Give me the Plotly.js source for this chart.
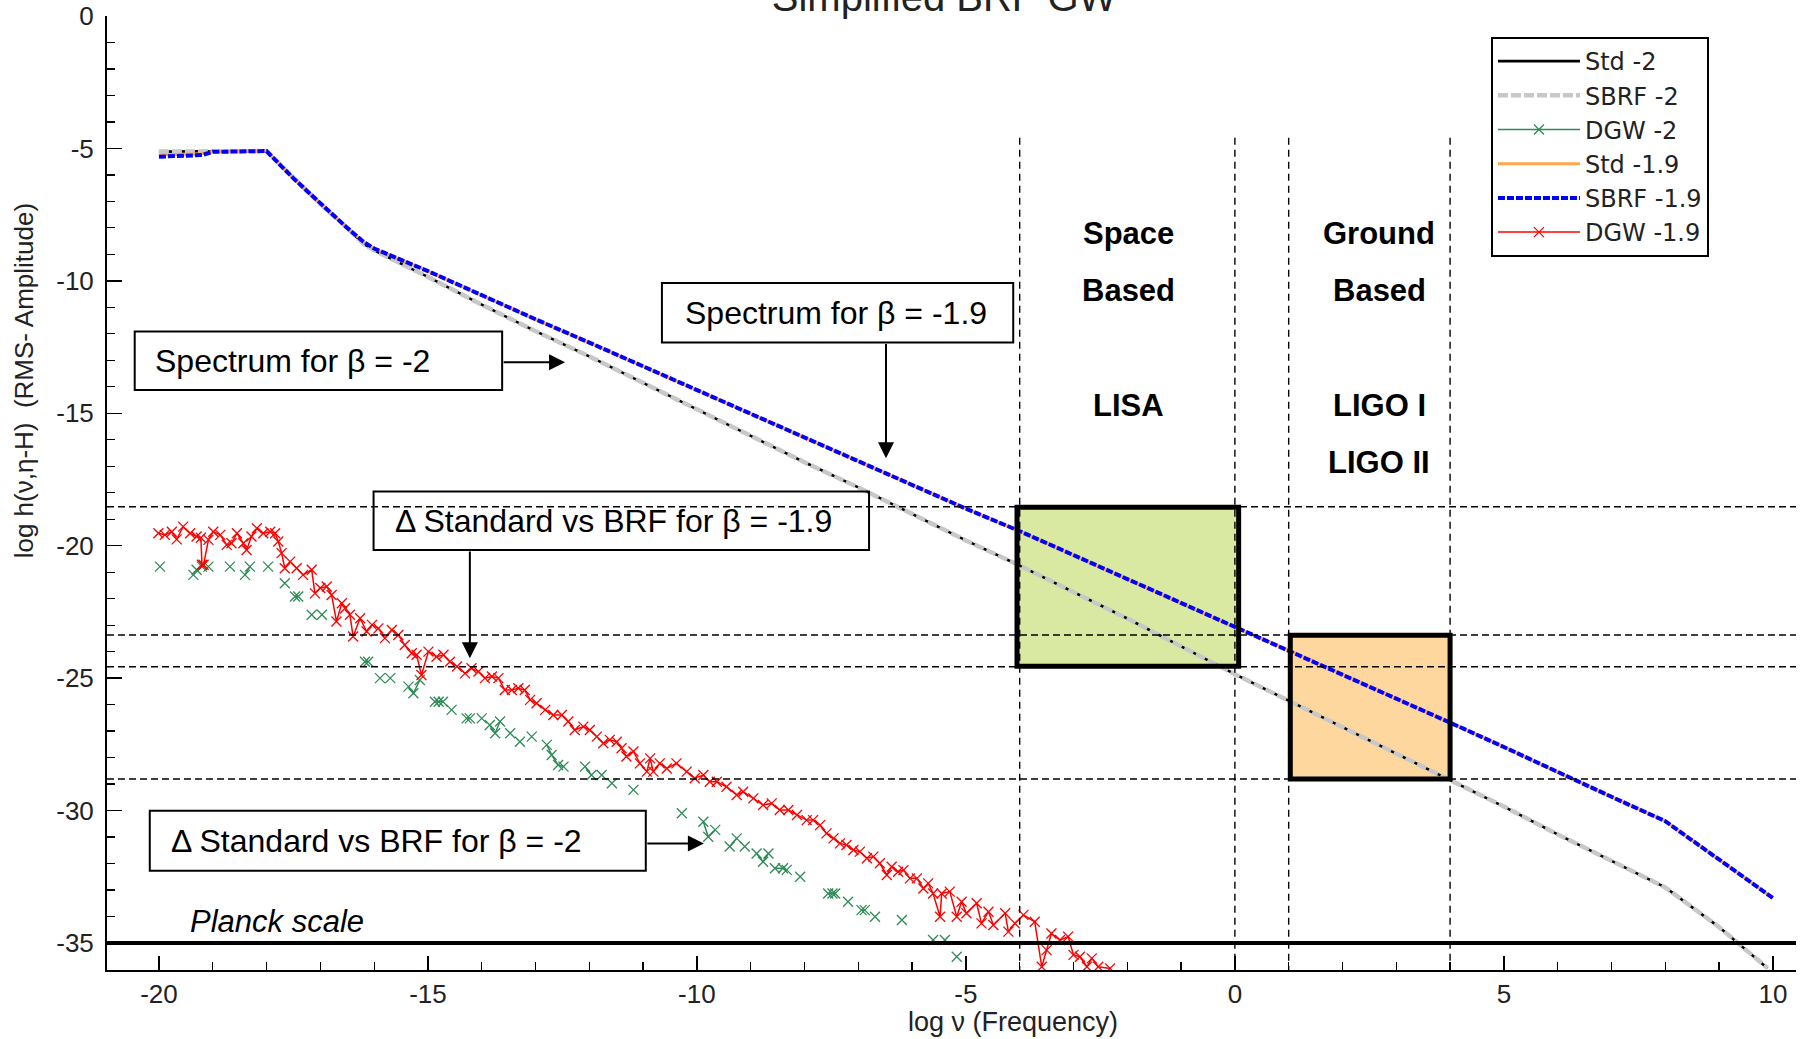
<!DOCTYPE html>
<html><head><meta charset="utf-8">
<script src="https://cdn.plot.ly/plotly-3.0.1.min.js"></script>
<style>html,body{margin:0;padding:0;background:#fff}#chart{width:1805px;height:1039px}</style>
</head><body><div id="chart"></div>
<script>
// ---- data ----
const spec2X  = [-20,-19,-18,-17.5,-17,-16.5,-16.2,-16,-15,-14,-13,-12,-11,-10,-9,-8,-7,-6,-5,-4,-3,-2,-1,0,1,2,3,4,5,6,7,8,9,9.9];
const std2Y   = [-5.12,-5.12,-5.1,-6.1,-7.1,-8.0,-8.6,-8.85,-9.85,-10.9,-11.9,-12.85,-13.85,-14.85,-15.85,-16.85,-17.8,-18.8,-19.8,-20.75,-21.75,-22.75,-23.8,-24.85,-25.85,-26.85,-27.85,-28.85,-29.85,-30.9,-31.9,-32.9,-34.4,-35.95];
const sbrf2Y  = [-5.12,-5.12,-5.1,-6.1,-7.1,-8.0,-8.6,-8.85,-9.85,-10.9,-11.9,-12.85,-13.85,-14.85,-15.85,-16.85,-17.8,-18.8,-19.8,-20.75,-21.75,-22.75,-23.8,-24.85,-25.85,-26.85,-27.85,-28.85,-29.85,-30.9,-31.9,-32.9,-34.4,-35.95];
const spec19X = [-20,-19.2,-19,-18,-17.5,-17,-16.5,-16.2,-16,-15,-14,-13,-12,-11,-10,-9,-8,-7,-6,-5,-4,-3,-2,-1,0,1,2,3,4,5,6,7,8,9,10];
const std19Y  = [-5.25,-5.2,-5.12,-5.1,-6.13,-7.07,-8.0,-8.52,-8.78,-9.63,-10.55,-11.45,-12.33,-13.23,-14.12,-15.02,-15.9,-16.8,-17.7,-18.6,-19.45,-20.35,-21.25,-22.15,-23.08,-23.94,-24.85,-25.76,-26.68,-27.6,-28.55,-29.48,-30.4,-31.85,-33.3];
const sbrf19Y = [-5.31,-5.25,-5.13,-5.1,-6.13,-7.07,-8.0,-8.52,-8.78,-9.63,-10.55,-11.45,-12.33,-13.23,-14.12,-15.02,-15.9,-16.8,-17.7,-18.6,-19.45,-20.35,-21.25,-22.15,-23.08,-23.94,-24.85,-25.76,-26.68,-27.6,-28.55,-29.48,-30.4,-31.85,-33.3];

const dgw19X = [-20.01,-19.89,-19.76,-19.67,-19.55,-19.42,-19.3,-19.22,-19.2,-19.17,-19.08,-18.99,-18.86,-18.74,-18.65,-18.55,-18.43,-18.37,-18.28,-18.18,-18.06,-17.93,-17.84,-17.78,-17.72,-17.66,-17.56,-17.44,-17.32,-17.16,-17.1,-17.0,-16.88,-16.79,-16.7,-16.6,-16.54,-16.45,-16.39,-16.26,-16.14,-16.04,-15.92,-15.8,-15.67,-15.55,-15.43,-15.3,-15.21,-15.12,-14.99,-14.84,-14.71,-14.59,-14.46,-14.31,-14.19,-14.06,-13.94,-13.81,-13.69,-13.57,-13.44,-13.32,-13.2,-13.1,-12.98,-12.82,-12.67,-12.51,-12.39,-12.27,-12.11,-11.99,-11.86,-11.74,-11.62,-11.49,-11.4,-11.31,-11.18,-11.06,-10.93,-10.87,-10.81,-10.69,-10.56,-10.38,-10.19,-10.04,-9.88,-9.76,-9.63,-9.45,-9.26,-9.14,-8.95,-8.77,-8.61,-8.46,-8.3,-8.14,-7.96,-7.84,-7.71,-7.59,-7.46,-7.34,-7.22,-7.09,-6.97,-6.84,-6.72,-6.6,-6.47,-6.38,-6.26,-6.16,-6.04,-5.91,-5.79,-5.7,-5.61,-5.48,-5.45,-5.3,-5.17,-5.08,-4.99,-4.8,-4.71,-4.58,-4.49,-4.27,-4.21,-4.09,-3.93,-3.72,-3.59,-3.5,-3.41,-3.25,-3.1,-3.0,-2.88,-2.75,-2.66,-2.54,-2.32];
const dgw19Y = [-19.53,-19.59,-19.47,-19.76,-19.28,-19.53,-19.65,-19.7,-20.72,-20.72,-19.78,-19.47,-19.59,-19.97,-19.91,-19.53,-19.91,-20.16,-19.65,-19.34,-19.53,-19.47,-19.53,-19.84,-20.28,-20.85,-20.6,-20.85,-21.1,-20.91,-21.8,-21.6,-21.54,-21.86,-22.86,-22.17,-22.36,-22.61,-23.43,-22.74,-23.24,-22.99,-23.12,-23.49,-23.18,-23.37,-23.75,-24.06,-24.12,-24.88,-24.0,-24.19,-24.12,-24.38,-24.56,-24.82,-24.63,-24.75,-25.0,-24.94,-25.0,-25.45,-25.45,-25.38,-25.45,-25.82,-25.95,-26.2,-26.39,-26.39,-26.64,-26.96,-26.83,-26.96,-27.21,-27.46,-27.33,-27.4,-27.65,-27.96,-27.77,-28.22,-28.53,-28.03,-28.53,-28.22,-28.41,-28.22,-28.53,-28.78,-28.66,-28.91,-28.91,-29.1,-29.41,-29.29,-29.54,-29.79,-29.73,-29.98,-29.98,-30.17,-30.36,-30.36,-30.55,-30.86,-31.05,-31.24,-31.3,-31.49,-31.55,-31.8,-31.74,-31.99,-32.43,-32.12,-32.31,-32.25,-32.56,-32.56,-32.94,-32.75,-33.13,-34.01,-33.13,-33.06,-34.01,-33.44,-33.88,-33.5,-34.26,-33.82,-34.32,-33.88,-34.57,-34.26,-33.94,-34.2,-35.9,-35.27,-34.64,-34.89,-34.76,-35.45,-35.52,-35.9,-35.58,-35.9,-35.96];

// DGW -2: null separates groups that are not joined by a line
const dgw2X = [-19.98,null,-19.36,-19.3,-19.2,null,-19.08,null,-18.68,null,-18.4,-18.31,null,-17.97,null,-17.66,null,-17.47,-17.41,null,-17.16,null,-16.97,null,-16.17,-16.11,null,-15.89,null,-15.7,null,-15.36,-15.27,-15.15,null,-14.87,-14.8,-14.72,null,-14.56,null,-14.28,-14.22,null,-14.0,null,-13.85,-13.75,-13.66,null,-13.47,null,-13.29,null,-13.07,null,-12.79,-12.7,-12.58,-12.48,null,-12.08,-11.96,null,-11.77,null,-11.58,null,-11.18,null,-10.28,null,-9.88,-9.79,-9.66,null,-9.39,-9.26,null,-9.11,null,-8.89,-8.77,-8.67,null,-8.55,-8.4,-8.33,null,-8.08,null,-7.56,-7.48,-7.43,null,-7.19,null,-6.94,-6.88,null,-6.69,null,-6.19,null,-5.61,null,-5.39,null,-5.17];
const dgw2Y = [-20.79,null,-21.1,-20.91,-20.79,null,-20.79,null,-20.79,null,-21.1,-20.79,null,-20.79,null,-21.42,null,-21.92,-21.92,null,-22.61,null,-22.61,null,-24.38,-24.38,null,-25.0,null,-25.0,null,-25.32,-25.57,-25.07,null,-25.89,-25.89,-25.89,null,-26.2,null,-26.52,-26.52,null,-26.52,null,-26.77,-27.08,-26.64,null,-27.08,null,-27.4,null,-27.21,null,-27.52,-27.9,-28.28,-28.34,null,-28.34,-28.66,null,-28.66,null,-28.97,null,-29.22,null,-30.1,null,-30.42,-30.99,-30.73,null,-31.36,-31.05,null,-31.36,null,-31.62,-31.93,-31.62,null,-32.18,-32.18,-32.24,null,-32.5,null,-33.13,-33.13,-33.13,null,-33.44,null,-33.76,-33.76,null,-34.01,null,-34.13,null,-34.89,null,-34.89,null,-35.52];

const xTickVals = [-20,-15,-10,-5,0,5,10];
const yTickVals = [0,-5,-10,-15,-20,-25,-30,-35];
const bandX = [-4, 0, 1, 4];                      // detector band edges (log ν)
const levelY = [-18.53, -23.37, -24.57, -28.81];  // sensitivity levels
const planckY = -35;

const FONT = 'Arial, "Liberation Sans", sans-serif';
const LEGFONT = '"DejaVu Sans", Arial, sans-serif';

const traces = [
  {name:'Std -2', x:spec2X, y:std2Y, mode:'lines', line:{color:'#000000', width:2.6}},
  {name:'SBRF -2', x:spec2X, y:sbrf2Y, mode:'lines', line:{color:'#c8c8c8', width:4.5, dash:'10px,3px'}},
  {name:'DGW -2', x:dgw2X, y:dgw2Y, mode:'lines+markers', connectgaps:false,
   line:{color:'#2e8b57', width:1.5},
   marker:{symbol:'x-thin', size:10, color:'#2e8b57', line:{color:'#2e8b57', width:1.3}}},
  {name:'Std -1.9', x:spec19X, y:std19Y, mode:'lines', line:{color:'#ffa64d', width:3}},
  {name:'SBRF -1.9', x:spec19X, y:sbrf19Y, mode:'lines', line:{color:'#0000ff', width:4, dash:'7px,2px'}},
  {name:'DGW -1.9', x:dgw19X, y:dgw19Y, mode:'lines+markers',
   line:{color:'#ff0000', width:1.5},
   marker:{symbol:'x-thin', size:10, color:'#ff0000', line:{color:'#ff0000', width:1.3}}}
];

// text boxes: [text, left, right, top, bottom, textLeft, textY]
const boxes = [
  ['Spectrum for β = -2',            -20.45, -13.62, -11.91, -14.12, -20.11, -13.02],
  ['Spectrum for β = -1.9',          -10.65,  -4.12, -10.08, -12.33, -10.26, -11.20],
  ['Δ Standard vs BRF for β = -1.9', -16.01,  -6.80, -17.95, -20.16, -15.64, -19.06],
  ['Δ Standard vs BRF for β = -2',   -20.17, -10.95, -30.01, -32.27, -19.81, -31.14]
];
// arrows: [fromX, fromY, toX, toY]
const arrows = [
  [-13.62, -13.07, -12.45, -13.07],
  [-6.485, -12.33, -6.485, -16.70],
  [-14.22, -20.16, -14.22, -24.25],
  [-10.95, -31.24,  -9.87, -31.24]
];

const shapes = [];
shapes.push({type:'rect', xref:'x', yref:'y', x0:-4.05, x1:0.07, y0:-24.55, y1:-18.55, fillcolor:'#d9e9a2', line:{width:0}, layer:'below'});
shapes.push({type:'rect', xref:'x', yref:'y', x0:1.03, x1:4.0, y0:-28.81, y1:-23.38, fillcolor:'#fdd79e', line:{width:0}, layer:'below'});
bandX.forEach(v => shapes.push({type:'line', xref:'x', yref:'y', x0:v, x1:v, y0:-4.6, y1:-36.02, line:{color:'#000', width:1.4, dash:'7px,5px'}, layer:'above'}));
levelY.forEach(v => shapes.push({type:'line', xref:'paper', yref:'y', x0:0, x1:1, y0:v, y1:v, line:{color:'#000', width:1.4, dash:'7px,4px'}, layer:'above'}));
shapes.push({type:'rect', xref:'x', yref:'y', x0:-4.05, x1:0.07, y0:-24.55, y1:-18.55, line:{color:'#000', width:5}, layer:'above'});
shapes.push({type:'rect', xref:'x', yref:'y', x0:1.03, x1:4.0, y0:-28.81, y1:-23.38, line:{color:'#000', width:5}, layer:'above'});
shapes.push({type:'line', xref:'paper', yref:'y', x0:0, x1:1, y0:planckY, y1:planckY, line:{color:'#000', width:4}, layer:'above'});
boxes.forEach(b => shapes.push({type:'rect', xref:'x', yref:'y', x0:b[1], x1:b[2], y0:b[4], y1:b[3], line:{color:'#000', width:2}, layer:'above'}));

const boxFont = {family:FONT, size:32, color:'#000'};
const bold = {family:FONT, size:31, color:'#000', weight:'bold'};
function label(text, x, y){
  return {text, x, y, xref:'x', yref:'y', showarrow:false, font:bold, xanchor:'center', yanchor:'middle'};
}

const annotations = [];
boxes.forEach(b => annotations.push({text:b[0], x:b[5], y:b[6], xref:'x', yref:'y', showarrow:false,
  xanchor:'left', yanchor:'middle', font:boxFont}));
arrows.forEach(a => annotations.push({text:'', x:a[2], y:a[3], ax:a[0], ay:a[1], xref:'x', yref:'y', axref:'x', ayref:'y',
  showarrow:true, arrowhead:2, arrowsize:1.6, arrowwidth:2, arrowcolor:'#000', standoff:0, startstandoff:0}));
annotations.push(
  label('Space', -1.97, -8.22), label('Based', -1.97, -10.35), label('LISA', -1.97, -14.7),
  label('Ground', 2.68, -8.22), label('Based', 2.68, -10.35), label('LIGO I', 2.68, -14.7), label('LIGO II', 2.68, -16.87),
  {text:'<i>Planck scale</i>', x:-19.46, y:-34.17, xref:'x', yref:'y', showarrow:false, xanchor:'left', yanchor:'middle',
   font:{family:FONT, size:31, color:'#000'}},
  {text:'log ν (Frequency)', xref:'paper', yref:'paper', x:0.5364, y:-0.0545, xanchor:'center', yanchor:'middle',
   showarrow:false, font:{family:FONT, size:27, color:'#222'}},
  {text:'log h(ν,η-H)  (RMS- Amplitude)', xref:'paper', yref:'paper', x:-0.0486, y:0.618, xanchor:'center', yanchor:'middle',
   textangle:-90, showarrow:false, font:{family:FONT, size:26, color:'#222'}}
);

const layout = {
  width:1805, height:1039,
  margin:{l:107, r:9, t:16, b:69},
  paper_bgcolor:'#fff', plot_bgcolor:'#fff',
  font:{family:FONT, color:'#222'},
  title:{text:'Simplified BRF GW', x:0.523, xanchor:'center', y:0.989, yanchor:'bottom', yref:'container',
         font:{family:FONT, size:40, color:'#222'}},
  showlegend:true,
  legend:{x:0.8194, y:0.978, xanchor:'left', yanchor:'top', bgcolor:'#fff', bordercolor:'#000', borderwidth:2,
          font:{family:LEGFONT, size:24, color:'#222'}, itemwidth:82, tracegroupgap:0},
  xaxis:{range:[-20.965, 10.43], showgrid:false, zeroline:false, showline:true, linecolor:'#000', linewidth:2,
         ticks:'inside', ticklen:14, tickwidth:1.5, tickcolor:'#000', tickvals:xTickVals, ticktext:xTickVals.map(String),
         minor:{dtick:1, ticks:'inside', ticklen:8, tickwidth:1.2, tickcolor:'#000', showgrid:false},
         tickfont:{family:FONT, size:26, color:'#222'}, fixedrange:true},
  yaxis:{range:[-36.02, 0], showgrid:false, zeroline:false, showline:true, linecolor:'#000', linewidth:2,
         ticks:'inside', ticklen:15, tickwidth:1.5, tickcolor:'#000', tickvals:yTickVals, ticktext:yTickVals.map(String),
         minor:{dtick:1, ticks:'inside', ticklen:8, tickwidth:1.2, tickcolor:'#000', showgrid:false},
         tickfont:{family:FONT, size:26, color:'#222'}, ticklabelstandoff:6, fixedrange:true},
  shapes, annotations
};

Plotly.newPlot('chart', traces, layout, {displayModeBar:false, staticPlot:true});
</script></body></html>
